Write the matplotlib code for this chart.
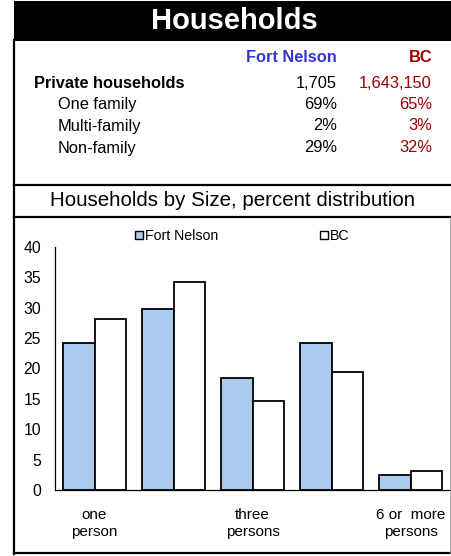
import matplotlib
matplotlib.use("Agg")
import matplotlib.pyplot as plt
from matplotlib.patches import Rectangle, Patch
from matplotlib.lines import Line2D

plt.rcParams['font.family'] = ['Liberation Sans', 'DejaVu Sans']

# table data
row_labels = ["Private households", "One family", "Multi-family", "Non-family"]
fort_nelson_vals = ["1,705", "69%", "2%", "29%"]
bc_vals = ["1,643,150", "65%", "3%", "32%"]

# chart data
categories = ["one person", "two persons", "three persons", "four to five persons", "6 or more persons"]
tick_labels = ["one\nperson", "", "three\npersons", "", "6 or  more\npersons"]
fort_nelson_pct = [24.2, 29.8, 18.4, 24.2, 2.5]
bc_pct = [28.1, 34.2, 14.7, 19.5, 3.2]

W, H = 451, 556
fig = plt.figure(figsize=(W / 100, H / 100), dpi=100)


def fx(x):
    return x / W


def fy(y):
    return 1 - y / H


def hline(y, x0, x1, lw=1.6, color='black'):
    fig.add_artist(Line2D([fx(x0), fx(x1)], [fy(y), fy(y)], color=color, lw=lw))


def vline(x, y0, y1, lw=1.6, color='black'):
    fig.add_artist(Line2D([fx(x), fx(x)], [fy(y0), fy(y1)], color=color, lw=lw))


# title banner
fig.add_artist(Rectangle((fx(14), fy(41)), fx(451) - fx(14), fy(1) - fy(41),
                         facecolor='black', edgecolor='none'))
fig.text(fx(234), fy(21), "Households", color='white', fontsize=21,
         fontweight='bold', ha='center', va='center')

# frame lines
vline(14, 40, 554)
hline(553, 14, 451)
hline(185, 14, 451)
hline(217, 14, 451)
vline(450, 217, 553, lw=0.6, color='#999999')

# table
blue = '#3535D8'
red = '#990000'
fs = 11.8
fig.text(fx(337), fy(58), "Fort Nelson", color=blue, fontsize=fs,
         fontweight='bold', ha='right', va='center')
fig.text(fx(432), fy(58), "BC", color=red, fontsize=fs,
         fontweight='bold', ha='right', va='center')
row_y = [83, 105, 126, 148]
for i, lab in enumerate(row_labels):
    if i == 0:
        fig.text(fx(34), fy(row_y[i]), lab, fontsize=fs, fontweight='bold',
                 ha='left', va='center')
    else:
        fig.text(fx(58), fy(row_y[i]), lab, fontsize=fs, ha='left', va='center')
    fig.text(fx(337), fy(row_y[i]), fort_nelson_vals[i], fontsize=fs,
             ha='right', va='center')
    fig.text(fx(432), fy(row_y[i]), bc_vals[i], fontsize=fs, color=red,
             ha='right', va='center')

# subtitle
fig.text(fx(233), fy(200), "Households by Size, percent distribution",
         fontsize=14.8, ha='center', va='center')

# bar chart
ax = fig.add_axes([fx(55), fy(490), fx(450) - fx(55), fy(247) - fy(490)])
x = list(range(len(categories)))
bw = 0.4
ax.bar([i - bw / 2 for i in x], fort_nelson_pct, width=bw, color='#A9CBEE',
       edgecolor='black', linewidth=1.3, label='Fort Nelson')
ax.bar([i + bw / 2 for i in x], bc_pct, width=bw, color='white',
       edgecolor='black', linewidth=1.3, label='BC')
ax.set_xlim(-0.5, 4.5)
ax.set_ylim(0, 40)
ax.set_yticks(range(0, 41, 5))
ax.set_xticks(x)
ax.set_xticklabels(tick_labels, fontsize=11, linespacing=1.3)
ax.tick_params(axis='y', length=0, pad=10, labelsize=11.3)
ax.tick_params(axis='x', length=0, pad=13)
for s in ['top', 'right']:
    ax.spines[s].set_visible(False)
ax.spines['left'].set_linewidth(0.9)
ax.spines['bottom'].set_linewidth(0.9)
ax.spines['bottom'].set_bounds(-0.5, 4.5)

handles = [Patch(facecolor='#A9CBEE', edgecolor='black', linewidth=1.0),
           Patch(facecolor='white', edgecolor='black', linewidth=1.0)]
leg = fig.legend(handles, ['Fort Nelson', 'BC'], ncol=2, frameon=False,
                 loc='center left', bbox_to_anchor=(fx(135), fy(236)),
                 fontsize=10.2, handlelength=0.55, handleheight=0.55,
                 handletextpad=0.15, columnspacing=7.2, borderaxespad=0,
                 borderpad=0)

fig.savefig("out.png", dpi=100)
